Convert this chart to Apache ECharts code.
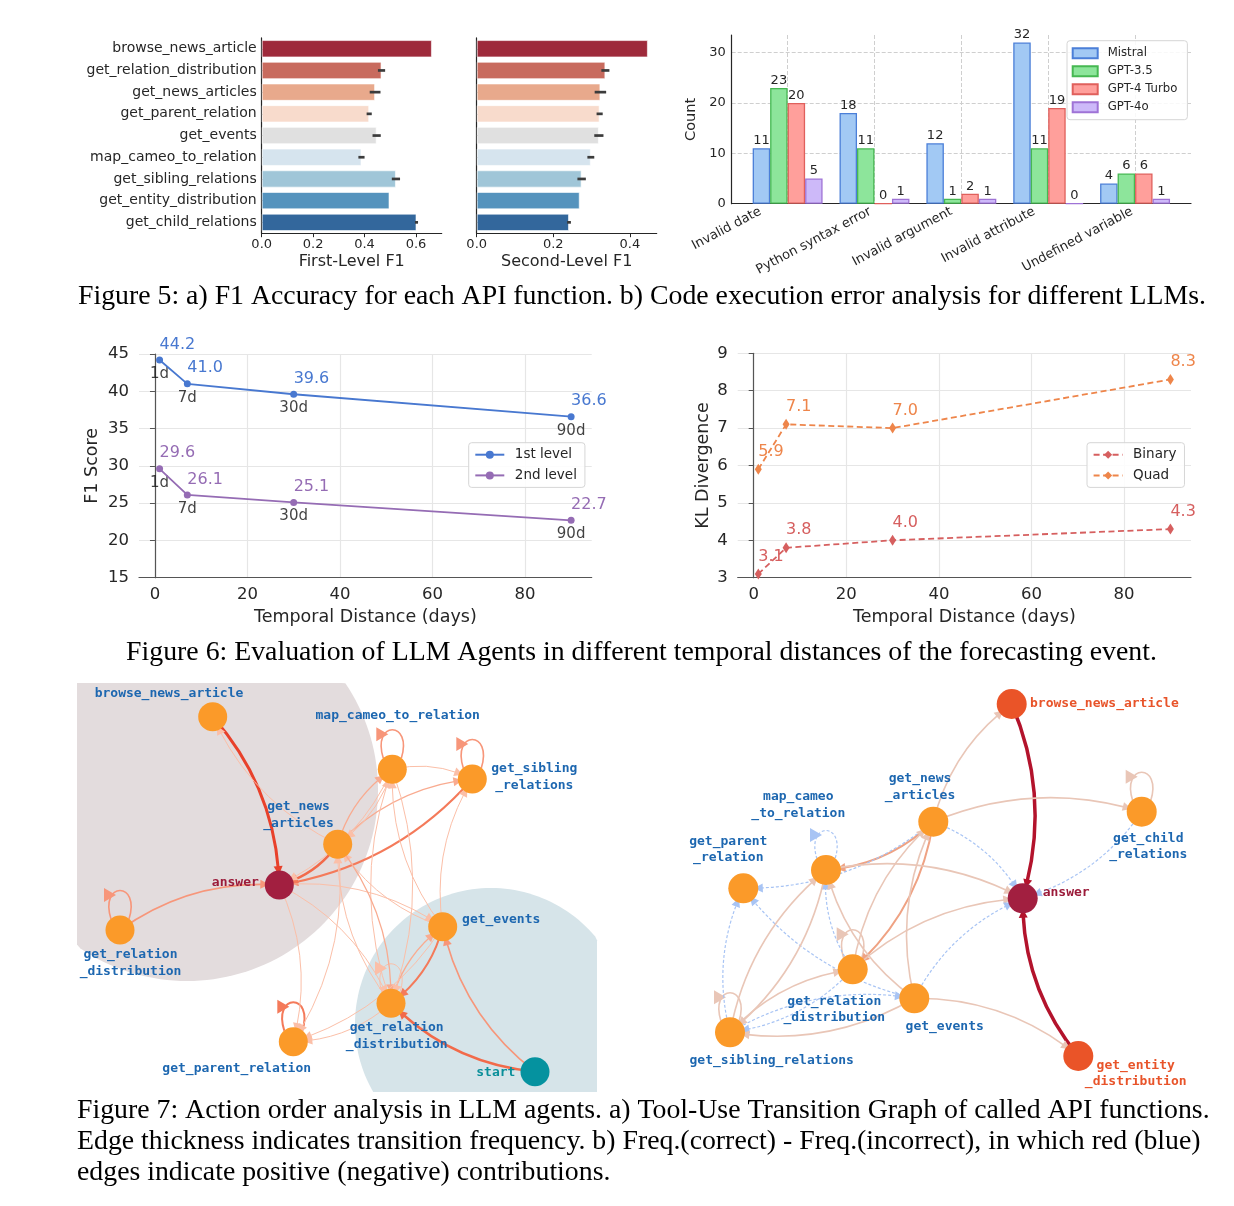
<!DOCTYPE html>
<html><head><meta charset="utf-8">
<script src="https://cdn.jsdelivr.net/npm/echarts@6/dist/echarts.min.js"></script>
<style>html,body{margin:0;padding:0;background:#fff}#c{width:1234px;height:1206px}</style>
</head><body><div id="c"></div>
<script>
// ---------- Figure 5a: F1 per API function ----------
const apiFunctions = ['browse_news_article','get_relation_distribution','get_news_articles','get_parent_relation','get_events','map_cameo_to_relation','get_sibling_relations','get_entity_distribution','get_child_relations'];
const firstLevelF1 = [0.662,0.466,0.441,0.418,0.447,0.388,0.522,0.497,0.602];
const firstLevelErr = [0,0.014,0.021,0.010,0.016,0.012,0.016,0,0.006];
const secondLevelF1 = [0.447,0.336,0.323,0.321,0.319,0.298,0.274,0.269,0.241];
const secondLevelErr = [0,0.0105,0.015,0.008,0.012,0.009,0.011,0,0.005];
const f1Ticks1 = [0,0.2,0.4,0.6];
const f1Ticks2 = [0,0.2,0.4];
// ---------- Figure 5b: code execution errors ----------
const errorTypes = ['Invalid date','Python syntax error','Invalid argument','Invalid attribute','Undefined variable'];
const mistral = [11,18,12,32,4];
const gpt35 = [23,11,1,11,6];
const gpt4turbo = [20,0,2,19,6];
const gpt4o = [5,1,1,0,1];
const countTicks = [0,10,20,30];
// ---------- Figure 6 ----------
const days = [1,7,30,90];
const dayLabels = ['1d','7d','30d','90d'];
const f1First = [44.2,41.0,39.6,36.6];
const f1Second = [29.6,26.1,25.1,22.7];
const klBinary = [3.1,3.8,4.0,4.3];
const klQuad = [5.9,7.1,7.0,8.3];
const dayTicks = [0,20,40,60,80];
// ---------- Figure 7a: transition graph (layout units) ----------
const graphAIds = ['browse','cameo','sibling','news','answer','reldistL','events','reldistB','parent','start'];
const graphANames = ['browse_news_article','map_cameo_to_relation','get_sibling\n_relations','get_news\n_articles','answer','get_relation\n_distribution','get_events','get_relation\n_distribution','get_parent_relation','start'];
const graphARoles = ['tool','tool','tool','tool','answer','tool','tool','tool','tool','start'];
const graphAX = [135.7,315.3,395.3,260.7,202.3,43,365.7,314,216.3,458];
const graphAY = [33.7,86.3,96,161.3,202,247,243.7,320.3,358.7,388.7];
const graphAEdges = [
  ['browse','answer',10],['news','answer',6],['news','browse',1],['reldistL','answer',3],
  ['sibling','answer',4],['news','sibling',1.5],['cameo','answer',1],['cameo','sibling',1],
  ['cameo','news',1],['news','cameo',1.5],['events','cameo',1],['events','sibling',1],
  ['events','news',1],['answer','events',1],['reldistB','cameo',1],['reldistB','news',1],
  ['news','reldistB',1.5],['reldistB','events',2],['events','reldistB',4],['reldistB','parent',1],
  ['events','parent',1],['answer','parent',1],['answer','reldistB',1],['news','parent',1],
  ['start','reldistB',6],['start','events',3],['cameo','reldistB',1]
];
const graphALoops = [['cameo',3],['sibling',3],['reldistL',3],['parent',3.5],['reldistB',1]];
const graphAAreas = [[110,107,191],[414,341,136]];   // [cx, cy, radius] in layout units
// ---------- Figure 7b: Freq(correct) - Freq(incorrect) ----------
const graphBIds = ['browse','news','cameo','parent','answer','child','reldist','events','sibling','entity'];
const graphBNames = ['browse_news_article','get_news\n_articles','map_cameo\n_to_relation','get_parent\n_relation','answer','get_child\n_relations','get_relation\n_distribution','get_events','get_sibling_relations','get_entity\n_distribution'];
const graphBRoles = ['pos','tool','tool','tool','answer','tool','tool','tool','tool','pos'];
const graphBX = [331.7,253.3,146,63.3,342.7,461.7,172.7,234.3,50,398.3];
const graphBY = [21,138.7,187,205.3,215.3,128.7,286.3,315.3,349.3,373];
const graphBEdges = [
  ['browse','answer',10],['entity','answer',10],['news','browse',1],['news','child',1],
  ['child','answer',-1],['news','answer',-1],['news','cameo',3],['news','reldist',3],
  ['news','parent',-1],['cameo','answer',1],['reldist','answer',1.5],['reldist','news',2],
  ['reldist','sibling',-1],['reldist','cameo',-1],['events','news',1],['events','cameo',1.5],
  ['events','answer',-1],['events','entity',1],['events','parent',-1],['sibling','reldist',1.5],
  ['sibling','events',-1],['sibling','cameo',1],['sibling','parent',-1],['cameo','sibling',1],
  ['events','sibling',1]
];
const graphBLoops = [['child',1],['reldist',2],['sibling',1],['cameo',-1]];

// ---------- styles ----------
const barPalette = ['#9e2a3b','#c86b5e','#e8a98c','#f8dbcc','#e0e0e0','#d6e4ee','#a0c6d8','#5593bd','#33679c'];
const areaColors = ['#e3dcdd','#d6e4e9'];
const errLabelShift = [27,4,10,14,3];
const labelOffsetA = {browse:[-43.7,-23.4],cameo:[5.4,-53.6],sibling:[62,-1.7],news:[-39.2,-29.3],answer:[-44,-2.7],reldistL:[10.5,33.3],events:[58.5,-7.4],reldistB:[5.7,32.7],parent:[-56.6,26.6],start:[-39.2,0.6]};
const labelOffsetB = {browse:[92.7,0],news:[-13.3,-34.4],cameo:[-27.7,-65],parent:[-15,-38.8],answer:[43.5,-5.3],child:[6.6,35],reldist:[-18.4,40.2],events:[30.4,28.4],sibling:[41.7,28.7],entity:[57.4,17.8]};
const roleStyle = {
  tool:{node:'#fb9a29',text:'#1d67b0'}, answer:{node:'#a21f40',text:'#9b1b3a'},
  start:{node:'#05929f',text:'#0a8f9a'}, pos:{node:'#ea5428',text:'#e8542a'}
};
function edgeStyleA(w){
  if(w>=8) return {color:'#e8412b',width:3};
  if(w>=5) return {color:'#f26a4a',width:2.5};
  if(w>=3.5) return {color:'#f47a5a',width:2};
  if(w>=2.5) return {color:'#f7967a',width:1.6};
  if(w>=1.5) return {color:'#f9ab90',width:1.3};
  return {color:'#fbbfa8',width:1};
}
function edgeStyleB(v){
  if(v<0) return {color:'#a8c4f4',width:1.2,dash:[3,2]};
  if(v>=5) return {color:'#b3132c',width:3.5};
  if(v>=2.5) return {color:'#efa283',width:2};
  return {color:'#e9c6b7',width:1.6};
}
const TXT = '#262626';
const FONT = 'DejaVu Sans';

function errRender(params, api){
  const v = api.value(0), c = api.value(1), e = api.value(2);
  if(!e) return null;
  const p1 = api.coord([v-e, c]), p2 = api.coord([v+e, c]);
  return {type:'line', shape:{x1:p1[0],y1:p1[1],x2:p2[0],y2:p2[1]}, style:{stroke:'#3c3c3c',lineWidth:2.7}};
}
function areaRender(params, api){
  const c = api.coord([api.value(0), api.value(1)]);
  const r = api.size([api.value(2), 0])[0];
  const cs = params.coordSys;
  const pts = [];
  for(let k=0;k<180;k++){
    const t = k/180*Math.PI*2;
    let x = c[0]+r*Math.cos(t), y = c[1]+r*Math.sin(t);
    x = Math.min(Math.max(x, cs.x), cs.x+cs.width);
    y = Math.min(Math.max(y, cs.y), cs.y+cs.height);
    pts.push([x,y]);
  }
  return {type:'polygon', shape:{points:pts}, style:{fill:areaColors[params.dataIndex]}};
}
function loopRender(styleFn){
  return function(params, api){
    const p = api.coord([api.value(0), api.value(1)]);
    const st = styleFn(api.value(2));
    const x = p[0], y = p[1];
    return {type:'group', children:[
      {type:'bezierCurve', shape:{x1:x-9,y1:y-11,cpx1:x-21,cpy1:y-49,cpx2:x+21,cpy2:y-49,x2:x+9,y2:y-11},
        style:{stroke:st.color,lineWidth:st.width,fill:null,lineDash:st.dash||null}},
      {type:'polygon', shape:{points:[[x-16,y-42],[x-16,y-28],[x-4,y-35]]}, style:{fill:st.color}}
    ]};
  };
}
function buildNodes(ids,names,roles,xs,ys,offsets){
  return ids.map((id,i)=>({
    name:id, value:[xs[i],ys[i]],
    itemStyle:{color:roleStyle[roles[i]].node},
    label:{show:true,position:'inside',offset:offsets[id],formatter:names[i],color:roleStyle[roles[i]].text,
      fontFamily:'DejaVu Sans Mono',fontSize:13,fontWeight:'bold',lineHeight:16.5,align:'center'}
  }));
}
function buildLinks(edges,styleFn){
  return edges.map(e=>{const s=styleFn(e[2]);return {source:e[0],target:e[1],
    lineStyle:{color:s.color,width:s.width,type:s.dash||'solid',curveness:0.18,opacity:1}};});
}
function loopData(loops,ids,xs,ys){
  return loops.map(l=>{const i=ids.indexOf(l[0]);return [xs[i],ys[i],l[1]];});
}
// rotated category labels: shift each label along/perpendicular to its baseline
const errRich = {};
errLabelShift.forEach((off,i)=>{
  const d = off/1.131, b = 0.472*off;
  errRich['p'+i] = {fontSize:13,color:TXT,padding:[0,d,2*b,0]};
});

const chart = echarts.init(document.getElementById('c'), null, {renderer:'canvas'});
const option = {
  backgroundColor:'#fff', animation:false,
  textStyle:{fontFamily:FONT},
  grid:[
    {left:261.7, top:37.9, width:180, height:195.3},
    {left:476.7, top:37.9, width:180, height:195.3},
    {left:744.2, top:35, width:434.3, height:168.7},
    {left:731.7, top:35, width:459.3, height:168.7},
    {left:139, top:354, width:452.7, height:223.7},
    {left:737.7, top:353.3, width:453.3, height:224.4},
    {left:77, top:683, width:520, height:409},
    {left:680, top:683, width:540, height:409}
  ],
  xAxis:[
    {type:'value',gridIndex:0,min:0,max:0.7,
      axisLine:{show:true,lineStyle:{color:TXT,width:1.2}},
      axisTick:{show:true,customValues:f1Ticks1,length:4,lineStyle:{color:TXT}},
      axisLabel:{customValues:f1Ticks1,formatter:v=>v.toFixed(1),fontSize:13,color:TXT,margin:5},
      splitLine:{show:false},name:'First-Level F1',nameLocation:'middle',nameGap:21,
      nameTextStyle:{fontSize:16,color:TXT}},
    {type:'value',gridIndex:1,min:0,max:0.47,
      axisLine:{show:true,lineStyle:{color:TXT,width:1.2}},
      axisTick:{show:true,customValues:f1Ticks2,length:4,lineStyle:{color:TXT}},
      axisLabel:{customValues:f1Ticks2,formatter:v=>v.toFixed(1),fontSize:13,color:TXT,margin:5},
      splitLine:{show:false},name:'Second-Level F1',nameLocation:'middle',nameGap:21,
      nameTextStyle:{fontSize:16,color:TXT}},
    {type:'category',gridIndex:2,data:errorTypes,
      axisLine:{show:false},axisTick:{show:false},
      axisLabel:{interval:0,rotate:28,margin:7,rich:errRich,
        formatter:(v,i)=>'{p'+i+'|'+v+'}'},
      splitLine:{show:false}},
    {type:'value',gridIndex:3,min:0,max:1,axisLine:{show:true,lineStyle:{color:TXT,width:1.2}},
      axisTick:{show:false},axisLabel:{show:false},splitLine:{show:false}},
    {type:'value',gridIndex:4,min:-3.45,max:94.45,
      axisLine:{show:true,lineStyle:{color:'#555',width:1.2}},
      axisTick:{show:false,customValues:dayTicks},
      axisLabel:{customValues:dayTicks,fontSize:16.5,color:TXT,margin:9},
      splitLine:{show:true,lineStyle:{color:'#e6e6e6',width:1.2}},
      name:'Temporal Distance (days)',nameLocation:'middle',nameGap:31,nameTextStyle:{fontSize:17.5,color:TXT}},
    {type:'value',gridIndex:5,min:-3.45,max:94.45,
      axisLine:{show:true,lineStyle:{color:'#555',width:1.2}},
      axisTick:{show:false,customValues:dayTicks},
      axisLabel:{customValues:dayTicks,fontSize:16.5,color:TXT,margin:9},
      splitLine:{show:true,lineStyle:{color:'#e6e6e6',width:1.2}},
      name:'Temporal Distance (days)',nameLocation:'middle',nameGap:31,nameTextStyle:{fontSize:17.5,color:TXT}},
    {type:'value',gridIndex:6,min:0,max:520,show:false},
    {type:'value',gridIndex:7,min:0,max:540,show:false},
    // vertical dashed gridlines at the error-type centres
    {type:'value',gridIndex:2,min:-0.5,max:errorTypes.length-0.5,position:'bottom',
      axisLine:{show:false},axisTick:{show:false,customValues:errorTypes.map((_,i)=>i)},
      axisLabel:{show:false},splitLine:{show:true,lineStyle:{type:'dashed',color:'#cfcfcf'}}}
  ],
  yAxis:[
    {type:'category',gridIndex:0,data:apiFunctions,inverse:true,
      axisLine:{show:true,lineStyle:{color:TXT,width:1.2}},
      axisTick:{show:true,inside:true,length:4,alignWithLabel:true,lineStyle:{color:'#444'}},
      axisLabel:{interval:0,fontSize:14,color:TXT,margin:5}},
    {type:'category',gridIndex:1,data:apiFunctions,inverse:true,
      axisLine:{show:true,lineStyle:{color:TXT,width:1.2}},
      axisTick:{show:true,inside:true,length:4,alignWithLabel:true,lineStyle:{color:'#444'}},
      axisLabel:{show:false}},
    {type:'value',gridIndex:2,min:0,max:33.5,show:false},
    {type:'value',gridIndex:3,min:0,max:33.5,
      axisLine:{show:true,lineStyle:{color:TXT,width:1.2}},
      axisTick:{show:false,customValues:countTicks},
      axisLabel:{customValues:countTicks,fontSize:13,color:TXT,margin:6},
      splitLine:{show:true,lineStyle:{type:'dashed',color:'#cfcfcf'}},
      name:'Count',nameLocation:'middle',nameGap:33,nameTextStyle:{fontSize:14.6,color:TXT}},
    {type:'value',gridIndex:4,min:15,max:45,interval:5,
      axisLine:{show:true,lineStyle:{color:'#555',width:1.2}},
      axisLabel:{fontSize:16.5,color:TXT,margin:10},
      splitLine:{show:true,lineStyle:{color:'#e6e6e6',width:1.2}},
      name:'F1 Score',nameLocation:'middle',nameGap:38,nameTextStyle:{fontSize:17.5,color:TXT}},
    {type:'value',gridIndex:5,min:3,max:9,interval:1,
      axisLine:{show:true,lineStyle:{color:'#555',width:1.2}},
      axisLabel:{fontSize:16.5,color:TXT,margin:10},
      splitLine:{show:true,lineStyle:{color:'#e6e6e6',width:1.2}},
      name:'KL Divergence',nameLocation:'middle',nameGap:25,nameTextStyle:{fontSize:17.5,color:TXT}},
    {type:'value',gridIndex:6,min:0,max:409,inverse:true,show:false},
    {type:'value',gridIndex:7,min:0,max:409,inverse:true,show:false}
  ],
  legend:[
    {data:['Mistral','GPT-3.5','GPT-4 Turbo','GPT-4o'],orient:'vertical',left:1067,top:40.7,
      itemWidth:25,itemHeight:10,itemGap:5,padding:[6,10,6,4.7],icon:'rect',
      textStyle:{fontSize:11.7,color:TXT,lineHeight:13,padding:[0,0,0,5]},
      borderColor:'#d6d6d6',borderWidth:1,borderRadius:3,backgroundColor:'rgba(255,255,255,0.85)'},
    {data:['1st level','2nd level'],orient:'vertical',left:468.7,top:442.7,
      itemWidth:29,itemHeight:10,itemGap:6.7,padding:[5,8,5,5.6],
      textStyle:{fontSize:13.5,color:TXT,lineHeight:14,padding:[0,0,0,5.5]},
      borderColor:'#d6d6d6',borderWidth:1,borderRadius:3,backgroundColor:'rgba(255,255,255,0.85)'},
    {data:['Binary','Quad'],orient:'vertical',left:1087,top:442.7,
      itemWidth:29,itemHeight:10,itemGap:6.7,padding:[5,8,5,5.6],
      textStyle:{fontSize:13.5,color:TXT,lineHeight:14,padding:[0,0,0,5.5]},
      borderColor:'#d6d6d6',borderWidth:1,borderRadius:3,backgroundColor:'rgba(255,255,255,0.85)'}
  ],
  series:[]
};

// Figure 5a bars + error bars
[[firstLevelF1,firstLevelErr,0],[secondLevelF1,secondLevelErr,1]].forEach(([vals,errs,g])=>{
  option.series.push({type:'bar',name:'f1-'+g,xAxisIndex:g,yAxisIndex:g,data:vals,barCategoryGap:'20%',
    itemStyle:{color:p=>barPalette[p.dataIndex],borderColor:'rgba(255,255,255,0.6)',borderWidth:1},silent:true});
  option.series.push({type:'custom',name:'err-'+g,xAxisIndex:g,yAxisIndex:g,renderItem:errRender,
    data:vals.map((v,i)=>[v,i,errs[i]]),encode:{x:0,y:1},z:5,silent:true});
});
// Figure 5b bars
[['Mistral',mistral,'#a2c9f4','#4b7fd8'],['GPT-3.5',gpt35,'#8de59b','#46b852'],
 ['GPT-4 Turbo',gpt4turbo,'#ff9f9b','#e0605c'],['GPT-4o',gpt4o,'#cdb9f9','#9f73d6']].forEach(([n,vals,fill,edge])=>{
  option.series.push({type:'bar',name:n,xAxisIndex:2,yAxisIndex:2,data:vals,barGap:'0%',barCategoryGap:'19.5%',
    itemStyle:{color:fill,borderColor:edge,borderWidth:1.3},
    label:{show:true,position:'top',distance:1,fontSize:13,color:TXT}});
});
// Figure 6
function lineSeries(name,vals,color,xi,dashed){
  return {type:'line',name:name,xAxisIndex:xi,yAxisIndex:xi,data:days.map((d,i)=>[d,vals[i]]),
    color:color,symbol:dashed?'diamond':'circle',symbolSize:dashed?[7,11]:7,
    lineStyle:{width:1.8,color:color,type:dashed?[6,3.5]:'solid'},itemStyle:{color:color},
    label:{show:true,position:'top',align:'left',distance:4,fontSize:16,color:color,formatter:p=>p.value[1].toFixed(1)},z:3};
}
option.series.push(lineSeries('1st level',f1First,'#4878d0',4,false));
option.series.push(lineSeries('2nd level',f1Second,'#956cb4',4,false));
[f1First,f1Second].forEach((vals,k)=>{
  option.series.push({type:'scatter',name:'days-'+k,xAxisIndex:4,yAxisIndex:4,symbolSize:1,
    itemStyle:{color:'rgba(0,0,0,0)'},silent:true,
    data:days.map((d,i)=>[d,vals[i],dayLabels[i]]),
    label:{show:true,position:'bottom',distance:6,fontSize:15,color:'#111',formatter:p=>p.value[2]}});
});
option.series.push(lineSeries('Binary',klBinary,'#d65f5f',5,true));
option.series.push(lineSeries('Quad',klQuad,'#ee854a',5,true));

// Figure 7a
option.series.push({type:'custom',name:'areasA',xAxisIndex:6,yAxisIndex:6,renderItem:areaRender,
  data:graphAAreas,encode:{x:0,y:1},z:0,silent:true});
option.series.push({type:'custom',name:'loopsA',xAxisIndex:6,yAxisIndex:6,renderItem:loopRender(edgeStyleA),
  data:loopData(graphALoops,graphAIds,graphAX,graphAY),encode:{x:0,y:1},z:2,silent:true});
option.series.push({type:'graph',name:'graphA',coordinateSystem:'cartesian2d',xAxisIndex:6,yAxisIndex:6,
  symbolSize:29,edgeSymbol:['none','triangle'],edgeSymbolSize:[0,9],z:3,silent:true,
  data:buildNodes(graphAIds,graphANames,graphARoles,graphAX,graphAY,labelOffsetA),
  links:buildLinks(graphAEdges,edgeStyleA)});
// Figure 7b
option.series.push({type:'custom',name:'loopsB',xAxisIndex:7,yAxisIndex:7,renderItem:loopRender(edgeStyleB),
  data:loopData(graphBLoops,graphBIds,graphBX,graphBY),encode:{x:0,y:1},z:2,silent:true});
option.series.push({type:'graph',name:'graphB',coordinateSystem:'cartesian2d',xAxisIndex:7,yAxisIndex:7,
  symbolSize:30,edgeSymbol:['none','triangle'],edgeSymbolSize:[0,9],z:3,silent:true,
  data:buildNodes(graphBIds,graphBNames,graphBRoles,graphBX,graphBY,labelOffsetB),
  links:buildLinks(graphBEdges,edgeStyleB)});

// Captions
const SERIF = '"Liberation Serif", "Times New Roman", serif';
const capFont = '27.8px '+SERIF;
option.graphic = [
  {type:'text',style:{text:'Figure 5: a) F1 Accuracy for each API function. b) Code execution error analysis for different LLMs.',x:642,y:297,font:capFont,fill:'#000',textAlign:'center',textVerticalAlign:'middle'}},
  {type:'text',style:{text:'Figure 6: Evaluation of LLM Agents in different temporal distances of the forecasting event.',x:641.5,y:653,font:capFont,fill:'#000',textAlign:'center',textVerticalAlign:'middle'}},
  {type:'text',style:{text:'Figure 7: Action order analysis in LLM agents. a) Tool-Use Transition Graph of called API functions.',x:77,y:1111,font:capFont,fill:'#000',textAlign:'left',textVerticalAlign:'middle'}},
  {type:'text',style:{text:'Edge thickness indicates transition frequency. b) Freq.(correct) - Freq.(incorrect), in which red (blue)',x:77,y:1142,font:capFont,fill:'#000',textAlign:'left',textVerticalAlign:'middle'}},
  {type:'text',style:{text:'edges indicate positive (negative) contributions.',x:77,y:1173,font:capFont,fill:'#000',textAlign:'left',textVerticalAlign:'middle'}}
];
chart.setOption(option);
</script></body></html>
